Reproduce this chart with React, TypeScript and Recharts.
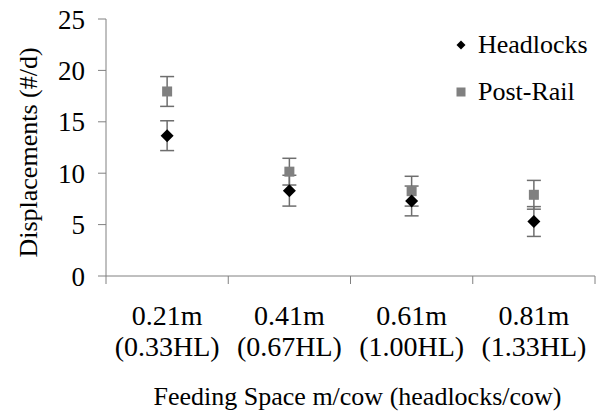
import React from 'react';
import { ComposedChart, Scatter, XAxis, YAxis, ErrorBar, Legend } from 'recharts';

const categoriesTop = ['0.21m', '0.41m', '0.61m', '0.81m'];
const categoriesBottom = ['(0.33HL)', '(0.67HL)', '(1.00HL)', '(1.33HL)'];
const headlocks = [13.65, 8.3, 7.3, 5.3];
const headlocksErr = [1.45, 1.5, 1.45, 1.45];
const postRail = [17.95, 10.15, 8.25, 7.9];
const postRailErr = [1.45, 1.3, 1.45, 1.4];
const yTicks = [0, 5, 10, 15, 20, 25];

const data = categoriesTop.map((c, i) => ({
  cat: c,
  hl: headlocks[i],
  hlErr: headlocksErr[i],
  pr: postRail[i],
  prErr: postRailErr[i],
}));

const W = 597;
const H = 413;
const M = { top: 19, right: 2, bottom: 0, left: 0 };
const Y_W = 106;
const X_H = 137;
const PLOT_W = W - M.left - M.right - Y_W;
const HALF_BAND = PLOT_W / categoriesTop.length / 2;
const FONT = '"Liberation Serif", "Times New Roman", serif';
const AXIS = '#808080';
const ERR = '#6e6e6e';

const XTick = (props: any) => {
  const { x, y, payload } = props;
  const i = categoriesTop.indexOf(payload.value);
  return (
    <g>
      <line x1={x - HALF_BAND} x2={x - HALF_BAND} y1={y - 8} y2={y} stroke={AXIS} strokeWidth={1} />
      {i === categoriesTop.length - 1 && (
        <line x1={x + HALF_BAND} x2={x + HALF_BAND} y1={y - 8} y2={y} stroke={AXIS} strokeWidth={1} />
      )}
      <text x={x} y={y + 41} textAnchor="middle" fontSize={28} fontFamily={FONT} fill="#000">
        {payload.value}
      </text>
      <text x={x} y={y + 72} textAnchor="middle" fontSize={28} fontFamily={FONT} fill="#000">
        {categoriesBottom[i]}
      </text>
    </g>
  );
};

const Diamond = (p: any) => {
  const { cx, cy } = p;
  const r = 6.5;
  return <path d={`M${cx},${cy - r}L${cx + r},${cy}L${cx},${cy + r}L${cx - r},${cy}Z`} fill="#000" />;
};

const Square = (p: any) => {
  const { cx, cy } = p;
  return <rect x={cx - 5} y={cy - 5} width={10} height={10} fill="#808080" />;
};

const LegendContent = () => (
  <div style={{ fontFamily: FONT, fontSize: 26, color: '#000' }}>
    <div style={{ display: 'flex', alignItems: 'center', height: 47 }}>
      <svg width={18} height={18} style={{ marginRight: 8 }}>
        <path d="M9,4.5L13.5,9L9,13.5L4.5,9Z" fill="#000" />
      </svg>
      <span>Headlocks</span>
    </div>
    <div style={{ display: 'flex', alignItems: 'center', height: 47 }}>
      <svg width={18} height={18} style={{ marginRight: 8 }}>
        <rect x={4.5} y={4.5} width={9} height={9} fill="#808080" />
      </svg>
      <span>Post-Rail</span>
    </div>
  </div>
);

export default function App() {
  return (
    <div style={{ position: 'absolute', left: 0, top: 0, width: W, height: H, background: '#fff' }}>
      <ComposedChart width={W} height={H} data={data} margin={M}>
        <XAxis
          dataKey="cat"
          type="category"
          scale="band"
          height={X_H}
          axisLine={{ stroke: AXIS, strokeWidth: 1 }}
          tickLine={{ stroke: 'none' }}
          tickSize={8}
          tickMargin={0}
          tick={<XTick />}
          interval={0}
          label={{
            content: (p: any) => {
              const vb = p.viewBox;
              return (
                <text
                  x={vb.x + vb.width / 2 + 7}
                  y={vb.y + 129}
                  textAnchor="middle"
                  fontSize={26}
                  fontFamily={FONT}
                  fill="#000"
                >
                  Feeding Space m/cow (headlocks/cow)
                </text>
              );
            },
          }}
        />
        <YAxis
          type="number"
          domain={[0, 25]}
          ticks={yTicks}
          width={Y_W}
          axisLine={{ stroke: AXIS, strokeWidth: 1 }}
          tickLine={{ stroke: AXIS, strokeWidth: 1 }}
          tickSize={8}
          tickMargin={13}
          tick={{ fontSize: 27, fontFamily: FONT, fill: '#000' }}
          label={{
            content: (p: any) => {
              const vb = p.viewBox;
              const cx = vb.x + 28;
              const cy = vb.y + vb.height / 2 + 5;
              return (
                <text
                  x={cx}
                  y={cy}
                  transform={`rotate(-90 ${cx} ${cy})`}
                  textAnchor="middle"
                  dominantBaseline="central"
                  fontSize={26}
                  fontFamily={FONT}
                  fill="#000"
                >
                  Displacements (#/d)
                </text>
              );
            },
          }}
        />
        <Legend
          layout="vertical"
          align="center"
          verticalAlign="middle"
          wrapperStyle={{ top: 21, left: 452, width: 145 }}
          content={<LegendContent />}
        />
        <Scatter name="Post-Rail" dataKey="pr" fill="#808080" shape={<Square />} isAnimationActive={false}>
          <ErrorBar dataKey="prErr" direction="y" width={7} stroke={ERR} strokeWidth={1.5} />
        </Scatter>
        <Scatter name="Headlocks" dataKey="hl" fill="#000" shape={<Diamond />} isAnimationActive={false}>
          <ErrorBar dataKey="hlErr" direction="y" width={7} stroke={ERR} strokeWidth={1.5} />
        </Scatter>
      </ComposedChart>
    </div>
  );
}
